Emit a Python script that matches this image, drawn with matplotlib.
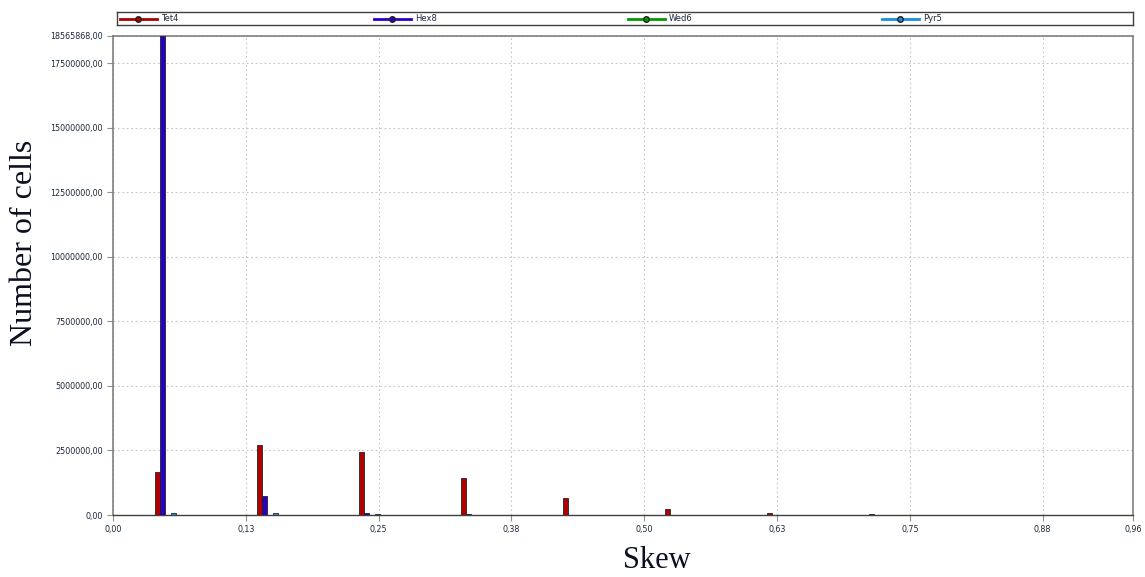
import numpy as np
import matplotlib
matplotlib.use("Agg")
import matplotlib.pyplot as plt
from matplotlib.ticker import FixedLocator, FuncFormatter
from decimal import Decimal, ROUND_HALF_UP

# skew histogram, 10 bins from 0 to 0.96
bin_width = 0.096
n_bins = 10
tet4 = [1680000, 2720000, 2430000, 1450000, 650000, 245000, 80000, 50000, 15000, 10000]
hex8 = [18565868, 750000, 78000, 20000, 8000, 4000, 2000, 1000, 500, 200]
wed6 = [0, 0, 0, 0, 0, 0, 0, 0, 0, 0]
pyr5 = [60000, 90000, 30000, 15000, 8000, 5000, 3000, 2000, 1000, 500]

series = {"Tet4": tet4, "Hex8": hex8, "Wed6": wed6, "Pyr5": pyr5}
colors = {"Tet4": "#b00000", "Hex8": "#2a00c8", "Wed6": "#009a00", "Pyr5": "#1a8ee0"}

y_max = 18565868
y_ticks = [0, 2500000, 5000000, 7500000, 10000000, 12500000, 15000000, 17500000, y_max]
x_ticks = [0, 0.125, 0.25, 0.375, 0.5, 0.625, 0.75, 0.875, 0.96]


def fmt(v, pos=None):
    d = Decimal(repr(float(v))).quantize(Decimal("0.01"), rounding=ROUND_HALF_UP)
    return f"{d}".replace(".", ",")


fig = plt.figure(figsize=(11.45, 5.77), dpi=100)
ax = fig.add_axes([113/1145, 1 - 515/577, 1020/1145, 479/577])

bar_w = 0.0049
lo = np.arange(n_bins) * bin_width
for k, name in enumerate(series):
    ax.bar(lo + 0.0395 + k * bar_w, series[name], width=bar_w, align="edge",
           color=colors[name], edgecolor="#222222", linewidth=0.6, zorder=3)

ax.set_xlim(0, 0.96)
ax.set_ylim(0, y_max)
ax.xaxis.set_major_locator(FixedLocator(x_ticks))
ax.yaxis.set_major_locator(FixedLocator(y_ticks))
ax.xaxis.set_major_formatter(FuncFormatter(fmt))
ax.yaxis.set_major_formatter(FuncFormatter(fmt))
ax.tick_params(labelsize=5.8, labelcolor="#1c2a3c", color="#909090", length=4, width=0.8)
ax.grid(True, linestyle=(0, (1.5, 2.5)), color="#c4c4c4", linewidth=0.8, zorder=0)

for s in ["left", "right", "top"]:
    ax.spines[s].set_color("#808080")
    ax.spines[s].set_linewidth(1.2)
ax.spines["bottom"].set_color("#404040")
ax.spines["bottom"].set_linewidth(1.0)

fig.text(25/1145, 1 - 243/577, "Number of cells", rotation=90, ha="center", va="center",
         family="Liberation Serif", fontsize=23, color="#0a1020")
fig.text(657/1145, 1 - 560/577, "Skew", ha="center", va="center",
         family="Liberation Serif", fontsize=22, color="#0a1020")

# legend strip on top, one equal slot per series
lg = fig.add_axes([117/1145, 1 - 25/577, 1016/1145, 13/577])
lg.set_xlim(0, 1016)
lg.set_ylim(0, 1)
lg.set_xticks([])
lg.set_yticks([])
for s in lg.spines.values():
    s.set_color("#404040")
    s.set_linewidth(1.0)
slot = 254
for k, name in enumerate(series):
    x0 = 3 + k * slot
    lg.plot([x0, x0 + 37], [0.5, 0.5], color=colors[name], lw=2)
    lg.plot([x0 + 18], [0.5], marker="o", markersize=4, color=colors[name],
            markeredgecolor="#222222")
    lg.text(x0 + 41, 0.5, name, fontsize=6, va="center", ha="left", color="#1c2a3c")

fig.savefig("out.png", dpi=100)
